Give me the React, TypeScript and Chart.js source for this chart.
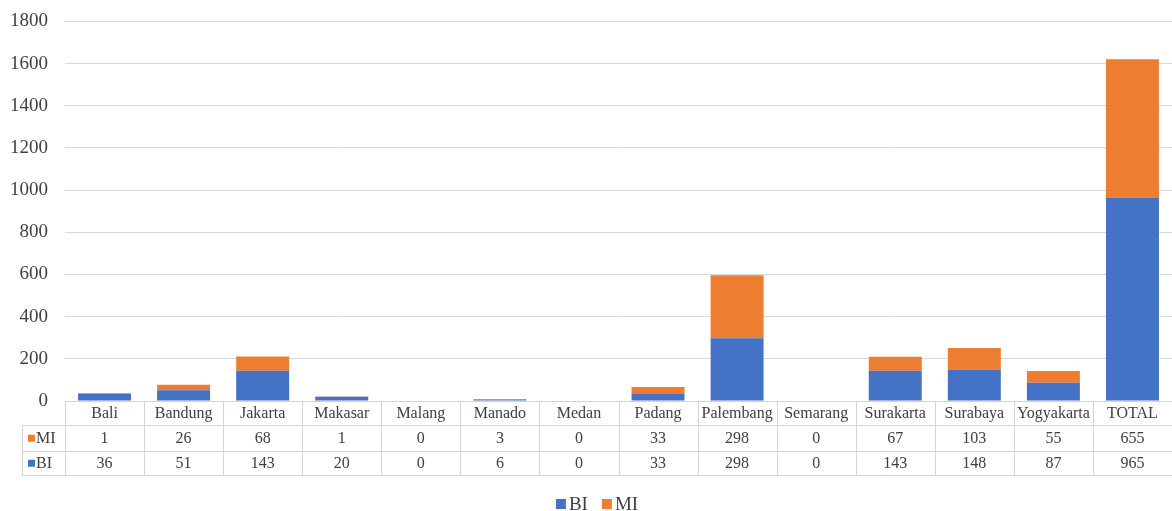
import React, { useEffect, useRef } from "react";
import { Chart, registerables } from "chart.js";

Chart.register(...registerables);

const categories = [
  "Bali", "Bandung", "Jakarta", "Makasar", "Malang", "Manado", "Medan",
  "Padang", "Palembang", "Semarang", "Surakarta", "Surabaya", "Yogyakarta", "TOTAL",
];
const biValues = [36, 51, 143, 20, 0, 6, 0, 33, 298, 0, 143, 148, 87, 965];
const miValues = [1, 26, 68, 1, 0, 3, 0, 33, 298, 0, 67, 103, 55, 655];
const yMax = 1800;
const yStep = 200;

const BLUE = "#4472C4";
const ORANGE = "#ED7D31";
const FONT = "'Liberation Serif', 'Times New Roman', serif";
const TEXT = "#404040";
const GRID = "#d9d9d9";
const TABLE_LINE = "#d4d4d4";
const LABEL_LEFT = 22;

const tablePlugin = {
  id: "dataTable",
  afterDraw(chart: any) {
    const { ctx, chartArea, scales } = chart;
    const xs = scales.x;
    const n = categories.length;
    const colW = (chartArea.right - chartArea.left) / n;
    const top = chartArea.bottom;
    const r1 = top + 24;
    const r2 = r1 + 25.5;
    const r3 = r2 + 24.5;
    const px = (v: number) => Math.round(v) + 0.5;
    ctx.save();
    ctx.strokeStyle = TABLE_LINE;
    ctx.lineWidth = 1;
    ctx.beginPath();
    const h = (y: number, x0: number, x1: number) => {
      ctx.moveTo(x0, px(y));
      ctx.lineTo(x1, px(y));
    };
    const v = (x: number, y0: number, y1: number) => {
      ctx.moveTo(px(x), y0);
      ctx.lineTo(px(x), y1);
    };
    h(top, chartArea.left, chartArea.right);
    h(r1, LABEL_LEFT, chartArea.right);
    h(r2, LABEL_LEFT, chartArea.right);
    h(r3, LABEL_LEFT, chartArea.right);
    v(LABEL_LEFT, px(r1), px(r3));
    for (let i = 0; i <= n; i++) {
      v(chartArea.left + i * colW, px(top), px(r3));
    }
    ctx.stroke();

    ctx.font = `16px ${FONT}`;
    ctx.fillStyle = TEXT;
    ctx.textAlign = "center";
    ctx.textBaseline = "middle";
    categories.forEach((c, i) => {
      const cx = xs.getPixelForValue(i);
      ctx.fillText(c, cx, (top + r1) / 2 + 1);
      ctx.fillText(String(miValues[i]), cx, (r1 + r2) / 2 + 1);
      ctx.fillText(String(biValues[i]), cx, (r2 + r3) / 2 + 1);
    });

    const ds = chart.data.datasets;
    const rows = [
      { label: ds[1].label, color: ds[1].backgroundColor, y: (r1 + r2) / 2 },
      { label: ds[0].label, color: ds[0].backgroundColor, y: (r2 + r3) / 2 },
    ];
    ctx.textAlign = "left";
    rows.forEach((r) => {
      ctx.fillStyle = r.color;
      ctx.fillRect(28, r.y - 3, 7, 7);
      ctx.fillStyle = TEXT;
      ctx.fillText(r.label, 36, r.y + 1);
    });

    // legend (below table)
    ctx.font = `19px ${FONT}`;
    const box = 10;
    const gap = 3;
    const spacing = 14;
    const widths = ds.map((d: any) => box + gap + ctx.measureText(d.label).width);
    const total = widths.reduce((a: number, b: number) => a + b, 0) + spacing * (ds.length - 1);
    const center = (LABEL_LEFT + chartArea.right) / 2;
    let lx = center - total / 2;
    const ly = r3 + 29;
    ds.forEach((d: any, i: number) => {
      ctx.fillStyle = d.backgroundColor;
      ctx.fillRect(lx, ly - box / 2, box, box);
      ctx.fillStyle = TEXT;
      ctx.fillText(d.label, lx + box + gap, ly + 1);
      lx += widths[i] + spacing;
    });
    ctx.restore();
  },
};

export default function App() {
  const canvasRef = useRef<HTMLCanvasElement>(null);

  useEffect(() => {
    document.body.style.margin = "0";
    document.body.style.overflow = "hidden";
    const canvas = canvasRef.current;
    if (!canvas) return;
    Chart.defaults.font.family = FONT;
    const chart = new Chart(canvas, {
      type: "bar",
      data: {
        labels: categories,
        datasets: [
          {
            label: "BI",
            data: biValues,
            backgroundColor: BLUE,
            categoryPercentage: 1,
            barPercentage: 0.67,
          },
          {
            label: "MI",
            data: miValues,
            backgroundColor: ORANGE,
            categoryPercentage: 1,
            barPercentage: 0.67,
          },
        ],
      },
      options: {
        animation: false,
        responsive: true,
        maintainAspectRatio: false,
        layout: { padding: { top: 0, left: 0, right: 0, bottom: 36 } },
        plugins: {
          legend: { display: false },
          tooltip: { enabled: false },
        },
        scales: {
          x: {
            stacked: true,
            grid: { display: false },
            border: { display: false },
            ticks: { display: false },
            afterFit: (axis: any) => {
              axis.height = 74;
            },
          },
          y: {
            stacked: true,
            min: 0,
            max: yMax,
            ticks: {
              stepSize: yStep,
              padding: 10,
              color: TEXT,
              font: { size: 19, family: FONT },
              callback: (value: any) => String(value),
            },
            grid: { color: GRID, drawTicks: true, tickLength: 7, tickColor: "rgba(0,0,0,0)" },
            border: { display: false },
            afterFit: (axis: any) => {
              axis.width = 65;
            },
          },
        },
      },
      plugins: [tablePlugin],
    });
    return () => chart.destroy();
  }, []);

  return (
    <div style={{ position: "fixed", left: 0, top: 0, width: 1172, height: 511 }}>
      <canvas ref={canvasRef} />
    </div>
  );
}
